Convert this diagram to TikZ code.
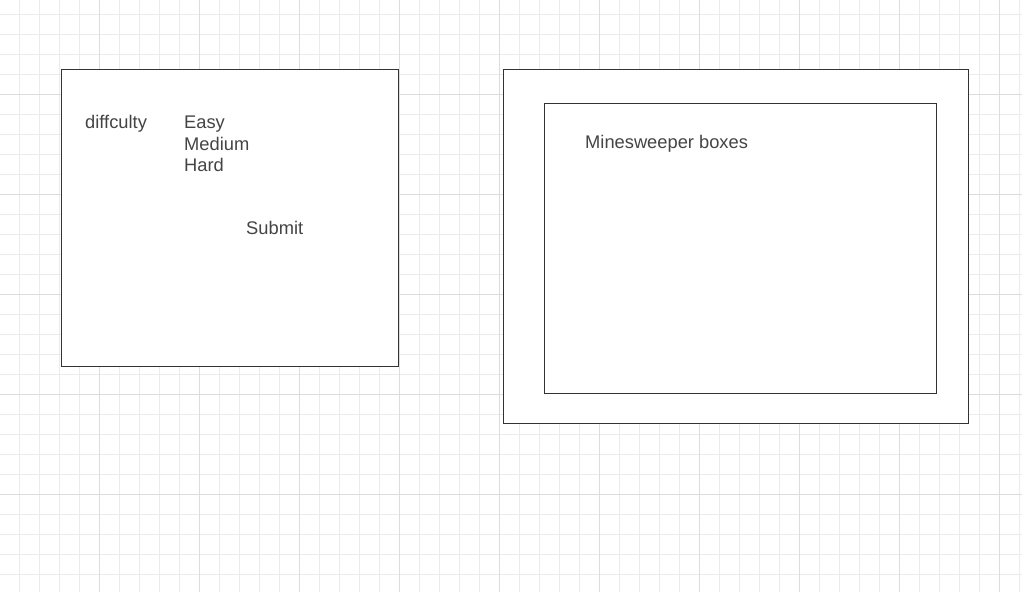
\documentclass[tikz,border=0pt]{standalone}
\usepackage{fontspec}
\setmainfont{Liberation Sans}
\definecolor{minorgrid}{HTML}{EBEBEB}
\definecolor{majorgrid}{HTML}{DCDCDC}
\definecolor{boxline}{HTML}{333333}
\definecolor{txt}{HTML}{444444}
\begin{document}
\begin{tikzpicture}[x=1pt,y=-1pt,
  frame/.style={draw=boxline,line width=1pt},
  lbl/.style={anchor=base west,inner sep=0pt,text=txt,font=\fontsize{18.3}{22}\selectfont}]
\useasboundingbox (0,0) rectangle (1022,592);
\fill[white] (0,0) rectangle (1022,592);
% minor grid
\foreach \x in {0,20,...,1020} \draw[minorgrid,line width=1pt] (\x-0.5,0) -- (\x-0.5,592);
\foreach \y in {14,34,...,592} \draw[minorgrid,line width=1pt] (0,\y) -- (1022,\y);
% major grid
\foreach \x in {100,200,...,1000} \draw[majorgrid,line width=1pt] (\x-0.5,0) -- (\x-0.5,592);
\foreach \y in {94,194,...,494} \draw[majorgrid,line width=1pt] (0,\y) -- (1022,\y);
% boxes
\node[frame,fill=white,inner sep=0pt,minimum width=337pt,minimum height=297pt,anchor=north west] (left) at (60.8,68.8) {};
\node[frame,fill=white,inner sep=0pt,minimum width=465pt,minimum height=354pt,anchor=north west] (outer) at (502.8,68.8) {};
\node[frame,fill=white,inner sep=0pt,minimum width=392pt,minimum height=290pt,anchor=north west] (inner) at (543.8,102.8) {};
% texts
\node[lbl] (diff) at (85,128) {diffculty};
\node[lbl] (easy) at (184,128) {Easy};
\node[lbl] (medium) at (184,150) {Medium};
\node[lbl] (hard) at (184,171) {Hard};
\node[lbl] (submit) at (246,234) {Submit};
\node[lbl] (mine) at (585,148) {Minesweeper boxes};
\end{tikzpicture}
\end{document}
